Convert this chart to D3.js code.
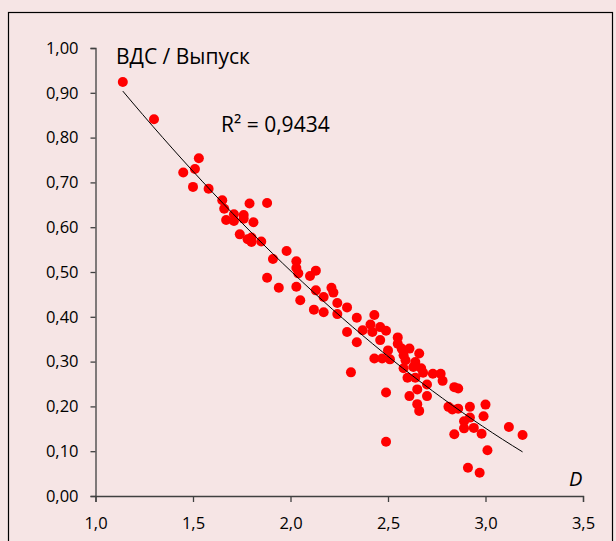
<!DOCTYPE html>
<html>
<head>
<meta charset="utf-8">
<script src="https://cdn.jsdelivr.net/npm/d3@7"></script>
<style>
  html, body { margin: 0; padding: 0; background: #f6e5e5; }
  svg { display: block; }
  text { font-family: "Open Sans", "Noto Sans", sans-serif; fill: #000; }
</style>
</head>
<body>
<div id="chart"></div>
<script>

// D (x) and ВДС / Выпуск (y), one pair per dot
var dX = [1.14,1.30,1.45,1.51,1.53,1.50,1.58,1.65,1.66,1.79,
          1.88,1.71,1.76,1.67,1.71,1.76,1.81,1.74,1.78,1.80,
          1.80,1.85,1.91,1.98,2.03,2.03,2.04,2.13,2.10,1.88,
          1.94,2.03,2.05,2.13,2.17,2.21,2.22,2.12,2.17,2.24,
          2.24,2.29,2.34,2.43,2.29,2.34,2.37,2.41,2.42,2.46,
          2.49,2.46,2.55,2.55,2.50,2.43,2.47,2.51,2.57,2.61,
          2.58,2.66,2.59,2.64,2.58,2.63,2.60,2.64,2.31,2.49,
          2.49,2.67,2.68,2.73,2.77,2.78,2.70,2.65,2.61,2.70,
          2.84,2.86,2.65,2.66,2.81,2.83,2.86,2.92,3.00,2.99,
          2.92,2.89,2.89,2.94,2.98,2.84,3.12,3.19,3.01,2.91,
          2.97]
var dY = [0.924,0.841,0.722,0.730,0.754,0.690,0.686,0.660,0.641,0.653,
          0.654,0.629,0.627,0.616,0.614,0.619,0.611,0.584,0.573,0.577,
          0.567,0.568,0.529,0.547,0.524,0.509,0.497,0.503,0.491,0.487,
          0.465,0.467,0.437,0.459,0.444,0.465,0.454,0.416,0.410,0.431,
          0.406,0.421,0.398,0.404,0.366,0.343,0.370,0.383,0.366,0.377,
          0.369,0.348,0.354,0.340,0.325,0.307,0.307,0.305,0.329,0.329,
          0.314,0.318,0.303,0.299,0.285,0.288,0.264,0.264,0.276,0.231,
          0.121,0.285,0.275,0.273,0.273,0.257,0.249,0.238,0.223,0.223,
          0.243,0.240,0.205,0.190,0.199,0.193,0.195,0.199,0.204,0.178,
          0.175,0.167,0.151,0.152,0.139,0.138,0.154,0.136,0.102,0.063,
          0.052]

// polynomial trendline (2nd order)
var trendCoef = [1.576, -0.660, 0.0617]
var rSquared = '0,9434'

var xTicks = [1.0, 1.5, 2.0, 2.5, 3.0, 3.5]
var yTicks = [0, 0.1, 0.2, 0.3, 0.4, 0.5, 0.6, 0.7, 0.8, 0.9, 1.0]

var locale = d3.formatLocale({decimal: ',', thousands: ' ', grouping: [3], currency: ['', '']})

draw()

function draw() {
    let svg = d3.select('#chart').append('svg')
        .attr('width', 616)
        .attr('height', 541)

    svg.append('rect')
        .attr('x', 8.5).attr('y', 12.5)
        .attr('width', 604).attr('height', 540)
        .attr('fill', 'none')
        .attr('stroke', '#000')
        .attr('stroke-width', 1.2)

    let x = d3.scaleLinear().domain([1, 3.5]).range([95.5, 583])
    let y = d3.scaleLinear().domain([0, 1]).range([496, 48])

    svg.append('g')
        .attr('transform', 'translate(0,' + y(0) + ')')
        .call(d3.axisBottom(x).tickValues(xTicks).tickSize(6).tickPadding(15)
            .tickFormat(locale.format('.1f')))

    svg.append('g')
        .attr('transform', 'translate(' + x(1) + ',0)')
        .call(d3.axisLeft(y).tickValues(yTicks).tickSize(5).tickPadding(12)
            .tickFormat(locale.format('.2f')))

    svg.selectAll('.domain, .tick line').attr('stroke', '#404040').attr('stroke-width', 1.3)
    svg.selectAll('.tick text').attr('font-size', 16.5).attr('fill', '#000')
        .style('font-family', '"Open Sans", sans-serif')

    let pts = dX.map((d, i) => ({x: d, y: dY[i]}))

    svg.append('g').selectAll('circle').data(pts).enter().append('circle')
        .attr('cx', d => x(d.x))
        .attr('cy', d => y(d.y))
        .attr('r', 5)
        .attr('fill', '#ff0000')

    let xs = d3.range(0, 41).map(i => d3.min(dX) + (d3.max(dX) - d3.min(dX)) * i / 40)
    svg.append('path')
        .datum(xs)
        .attr('fill', 'none')
        .attr('stroke', '#000')
        .attr('stroke-width', 1)
        .attr('d', d3.line()
            .x(d => x(d))
            .y(d => y(trendCoef[0] + trendCoef[1] * d + trendCoef[2] * d * d)))

    svg.append('text')
        .attr('x', 116).attr('y', 64)
        .attr('font-size', 21)
        .text('ВДС / Выпуск')

    svg.append('text')
        .attr('x', 221).attr('y', 132)
        .attr('font-size', 21)
        .text('R² = ' + rSquared)

    svg.append('text')
        .attr('x', 569).attr('y', 486)
        .attr('font-size', 20)
        .attr('font-style', 'italic')
        .text('D')
}
</script>
</body>
</html>
